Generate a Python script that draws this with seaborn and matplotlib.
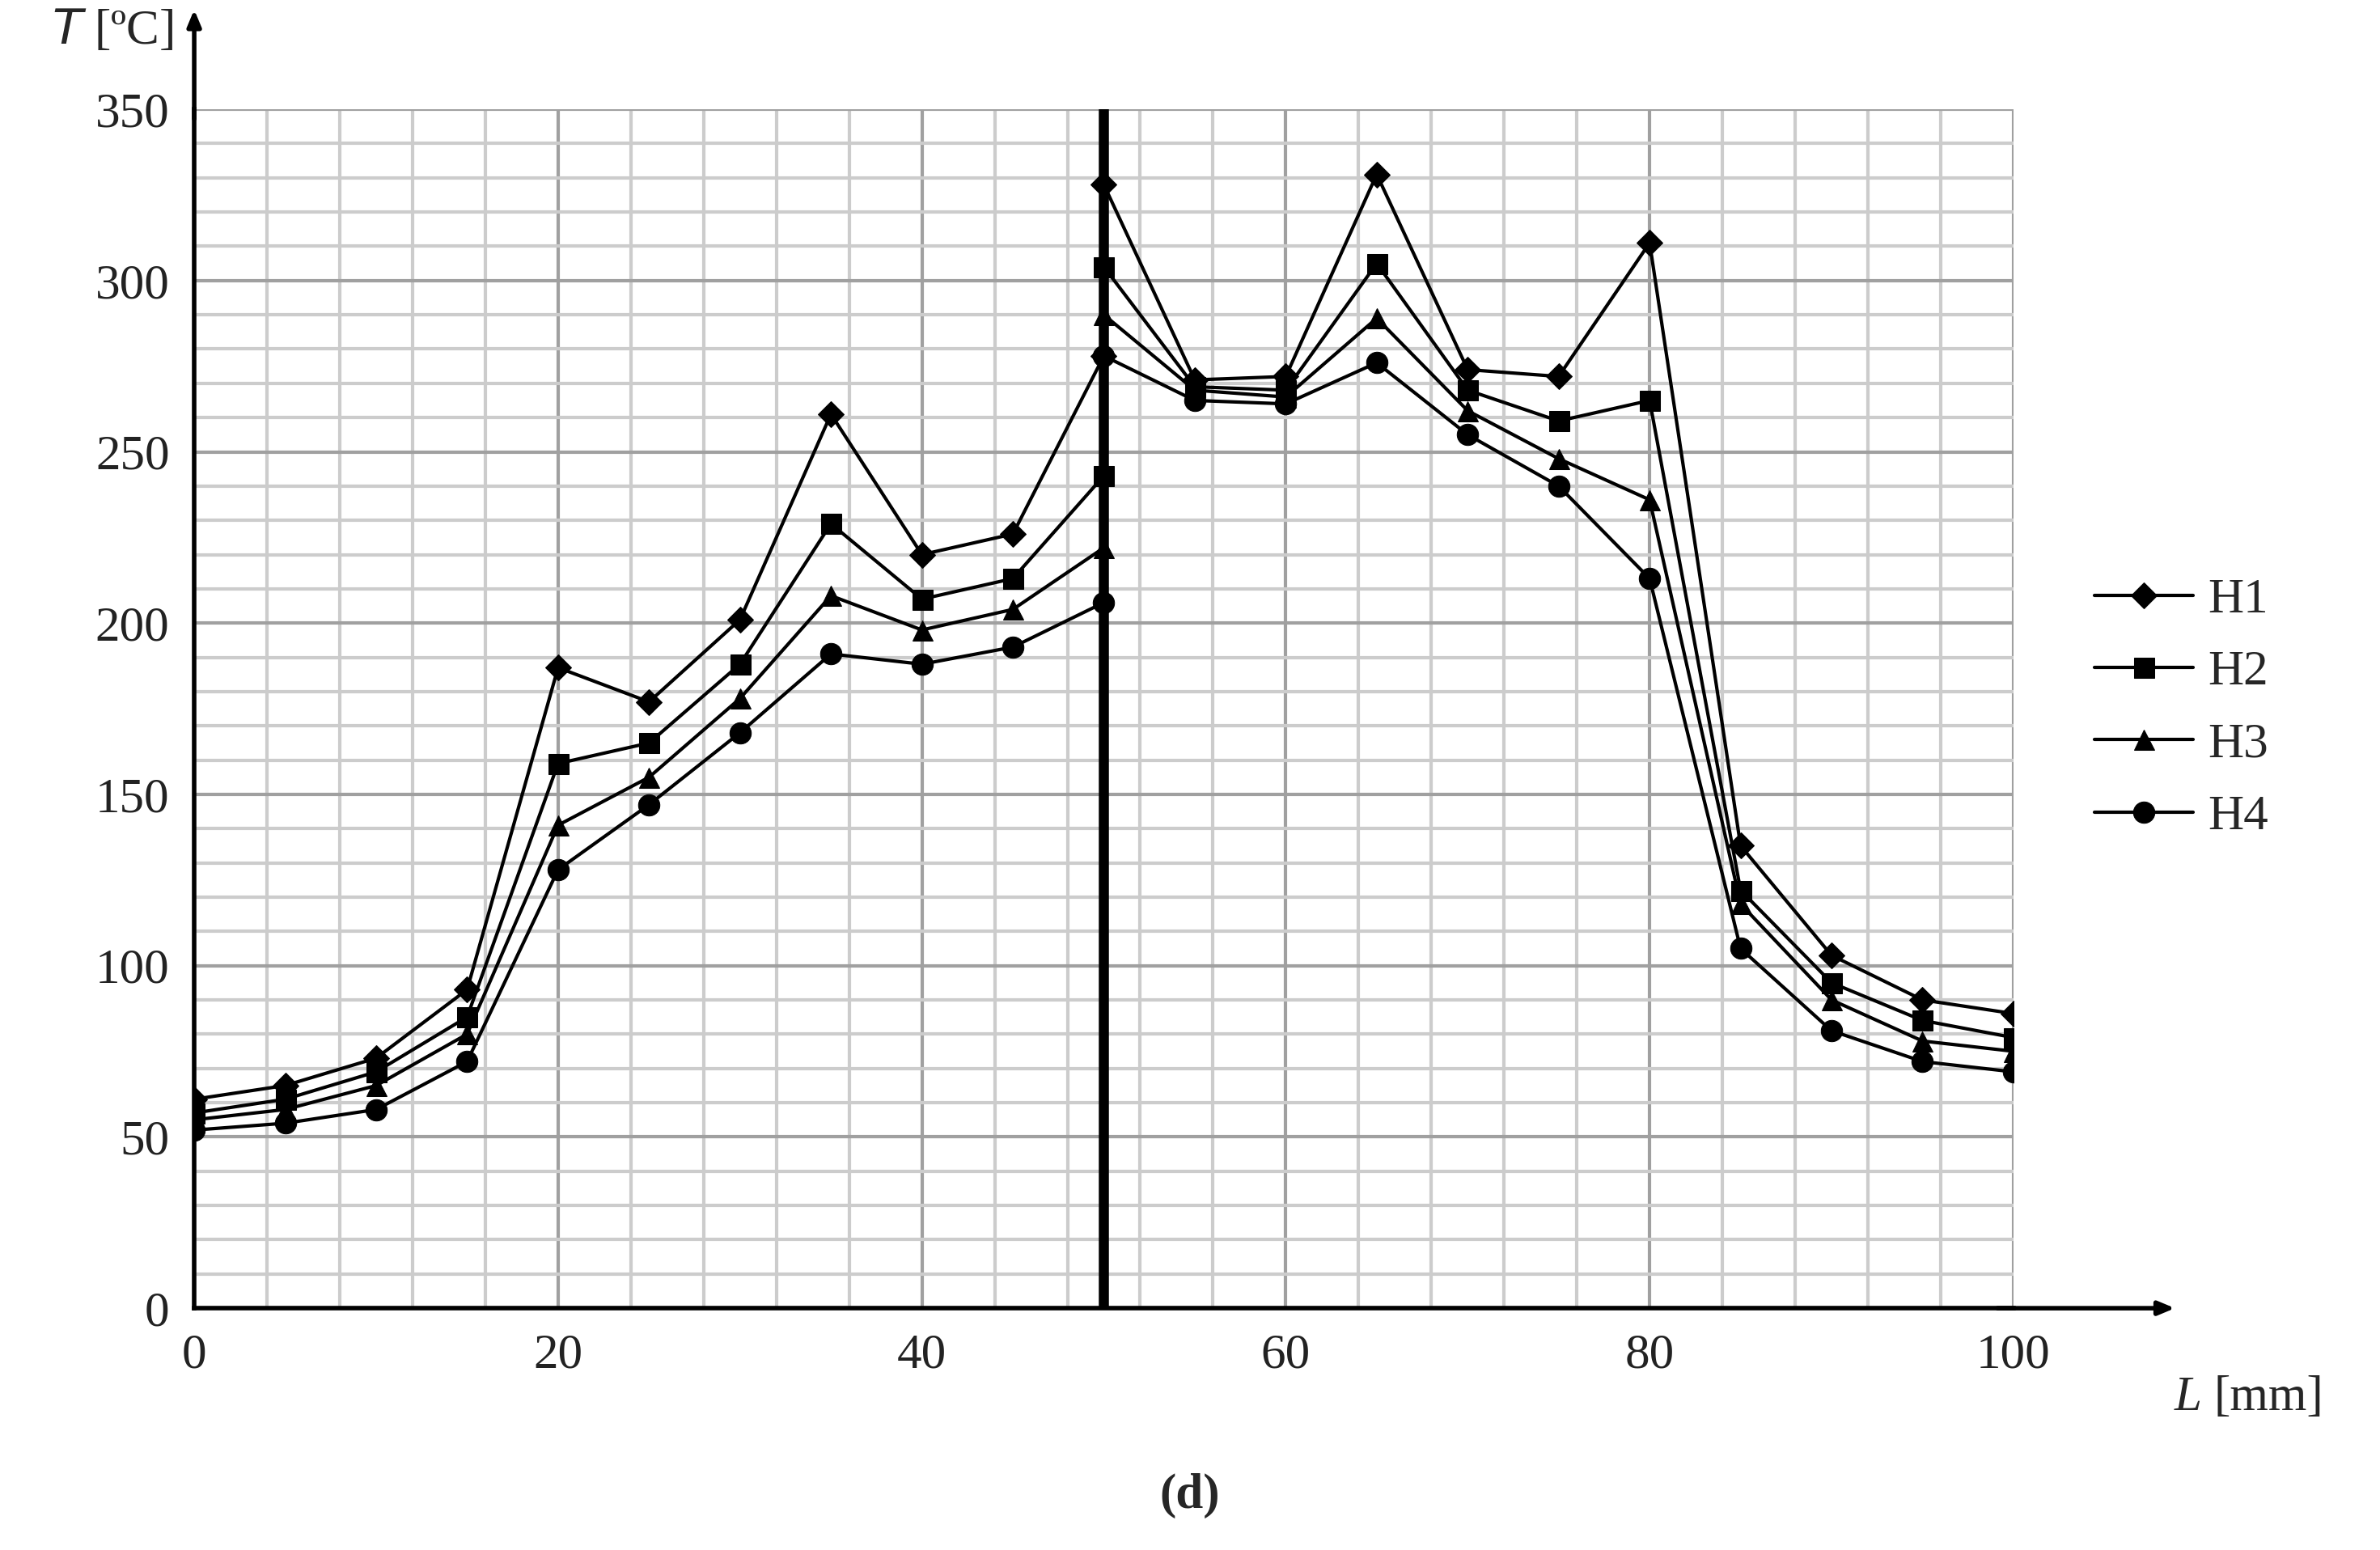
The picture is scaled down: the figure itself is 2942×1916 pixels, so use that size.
import numpy as np
import pandas as pd
import seaborn as sns
import matplotlib.pyplot as plt

# data (x=50 appears twice: value before and after the jump)
L = [0, 5, 10, 15, 20, 25, 30, 35, 40, 45, 50, 50, 55, 60, 65, 70, 75, 80, 85, 90, 95, 100]
h1 = [61, 65, 73, 93, 187, 177, 201, 261, 220, 226, 278, 328, 271, 272, 331, 274, 272, 311, 135, 103, 90, 86]
h2 = [57, 61, 69, 85, 159, 165, 188, 229, 207, 213, 243, 304, 269, 268, 305, 268, 259, 265, 122, 95, 84, 79]
h3 = [55, 58, 65, 80, 141, 155, 178, 208, 198, 204, 222, 290, 268, 266, 289, 262, 248, 236, 118, 90, 78, 75]
h4 = [52, 54, 58, 72, 128, 147, 168, 191, 188, 193, 206, 278, 265, 264, 276, 255, 240, 213, 105, 81, 72, 69]
series = {"H1": (h1, "D", 16), "H2": (h2, "s", 18), "H3": (h3, "^", 18), "H4": (h4, "o", 19)}

sns.set_style("white")
plt.rcParams['font.family'] = ['Liberation Serif', 'DejaVu Serif']

fig = plt.figure(figsize=(29.42, 19.16), dpi=100)
ax = fig.add_axes([0.0816, 0.156, 0.7644, 0.7735])

for name, (vals, mk, ms) in series.items():
    df = pd.DataFrame({"L": L, "T": vals})
    sns.lineplot(data=df, x="L", y="T", estimator=None, sort=False, ax=ax,
                 color="black", lw=3, marker=mk, markersize=ms, markeredgecolor="black",
                 label=name)

ax.set_xlim(0, 100)
ax.set_ylim(0, 350)
ax.set_xticks(np.arange(0, 101, 20))
ax.set_xticks(np.arange(0, 101, 4), minor=True)
ax.set_yticks(np.arange(0, 351, 50))
ax.set_yticks(np.arange(0, 351, 10), minor=True)
ax.grid(which="major", color="#a0a0a0", lw=3)
ax.grid(which="minor", color="#cccccc", lw=3)
ax.set_axisbelow(True)
for s in ["top", "right"]:
    ax.spines[s].set_visible(False)
for s in ["left", "bottom"]:
    ax.spines[s].set_linewidth(4)
    ax.spines[s].set_color("black")
ax.axvline(50, color="black", lw=9, zorder=1.5)
ax.tick_params(which="major", labelsize=44, length=0, pad=22, colors="#222222")
ax.tick_params(which="minor", length=0)
ax.set_xlabel("")
ax.set_ylabel("")

# axis arrows
ax.annotate("", xy=(0, 1.085), xytext=(0, 0.99), xycoords="axes fraction",
            arrowprops=dict(arrowstyle="-|>,head_width=0.5,head_length=1.2", color="black", lw=4))
ax.annotate("", xy=(1.09, 0), xytext=(0.99, 0), xycoords="axes fraction",
            arrowprops=dict(arrowstyle="-|>,head_width=0.5,head_length=1.2", color="black", lw=4))
ax.text(-0.045, 1.065, "$T$ [ºC]", transform=ax.transAxes, fontsize=44, ha="center", va="center")
fig.text(0.925, 0.098, "L", fontsize=44, style="italic", ha="right", va="center")
fig.text(0.93, 0.098, "[mm]", fontsize=44, ha="left", va="center")
fig.text(0.5, 0.035, "(d)", fontsize=44, fontweight="bold", ha="center", va="center")

ax.legend(loc="center left", bbox_to_anchor=(1.02, 0.5), frameon=False, fontsize=44,
          handlelength=2.0, labelspacing=0.55, handletextpad=0.3)

fig.savefig("out.png", dpi=100)
